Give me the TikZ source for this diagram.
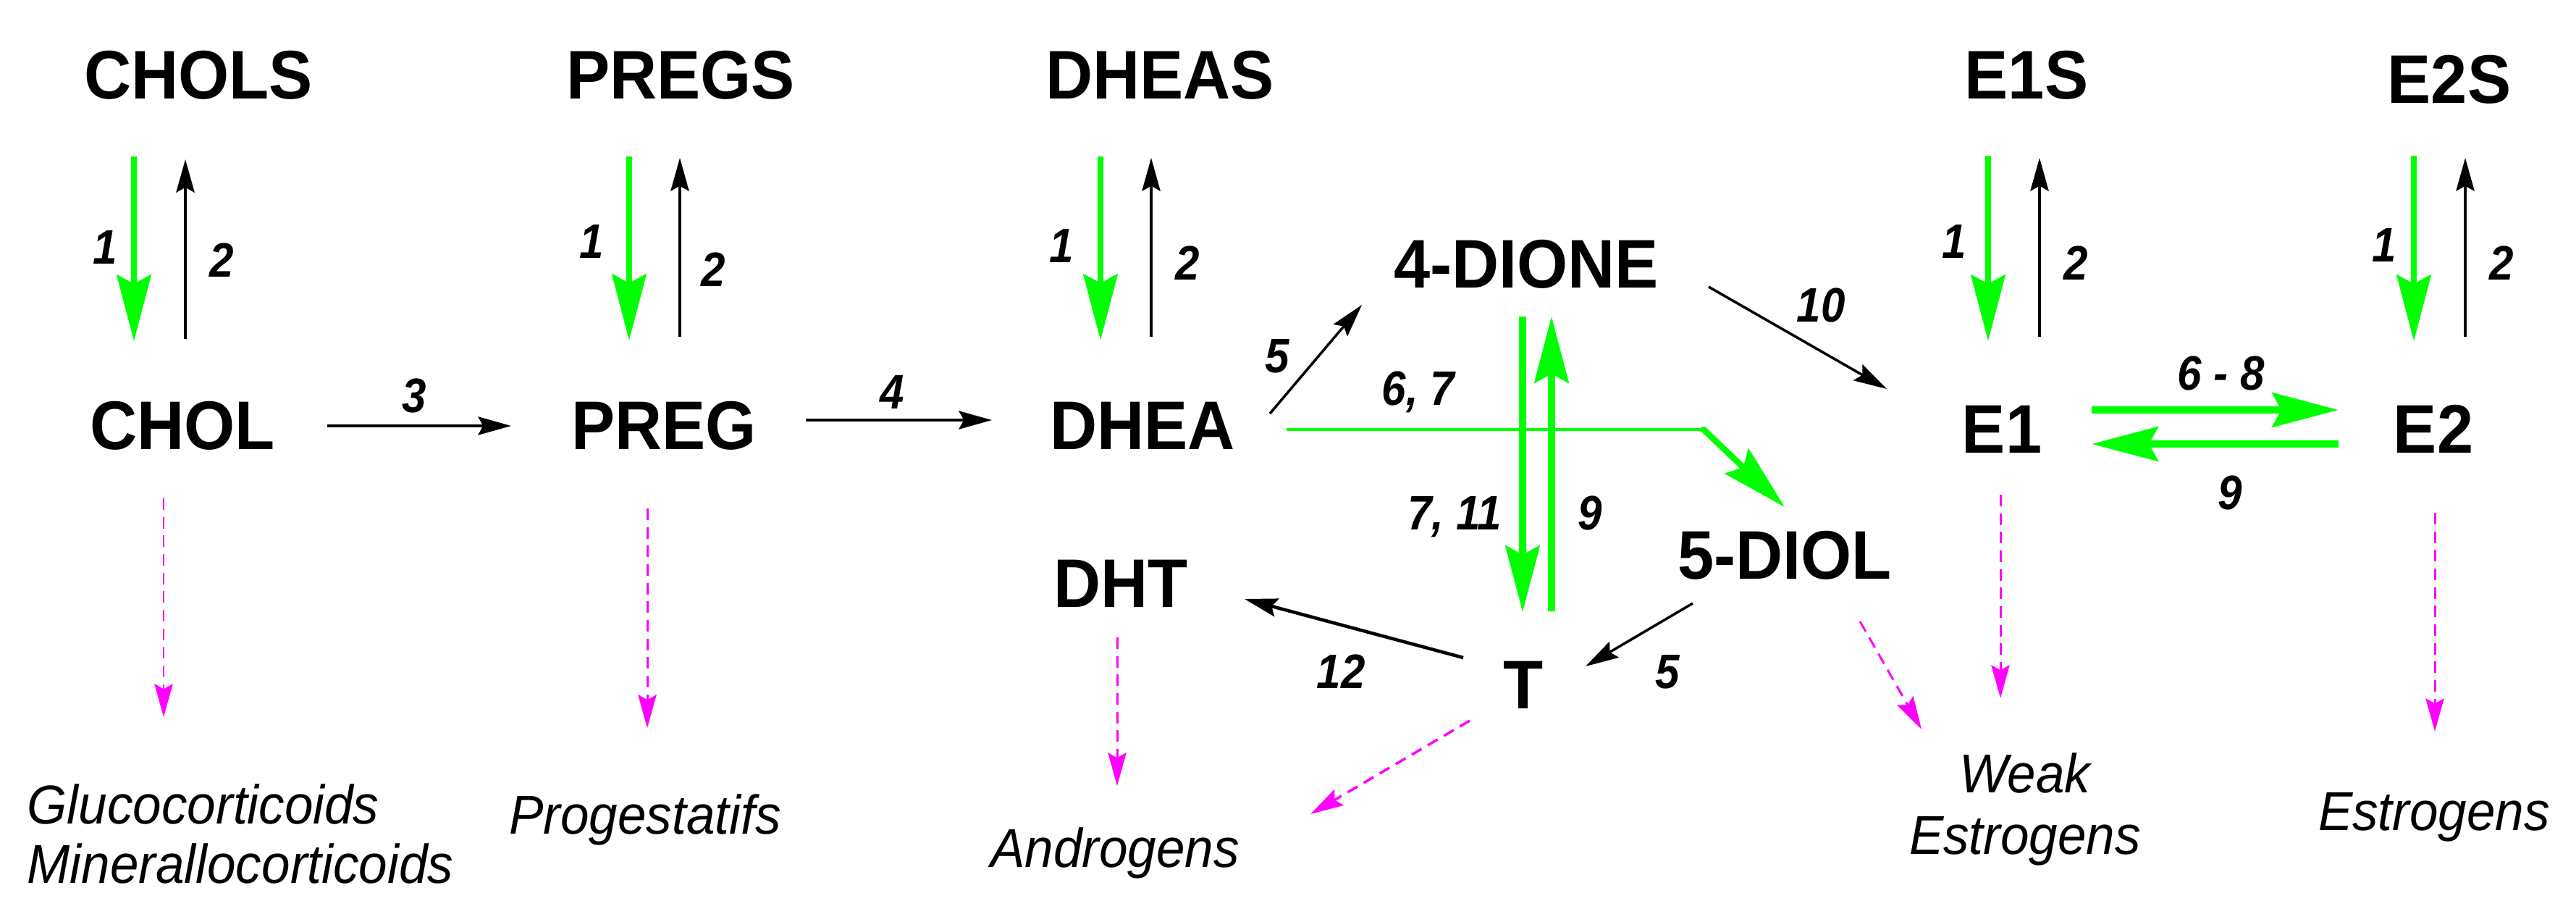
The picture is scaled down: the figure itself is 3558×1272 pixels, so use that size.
\documentclass[tikz,border=0pt]{standalone}
\usepackage{fontspec}
\setmainfont{Liberation Sans}
\newfontfamily\molfont[FakeStretch=0.95]{Liberation Sans}
\newfontfamily\numfont[FakeStretch=0.9]{Liberation Sans}
\newfontfamily\outfont[FakeStretch=0.94]{Liberation Sans}
\usetikzlibrary{arrows.meta}
\definecolor{grn}{HTML}{00FF00}
\definecolor{mag}{HTML}{FF00FF}
\begin{document}
\begin{tikzpicture}[x=0.01cm,y=-0.01cm,
  mol/.style={font=\molfont\fontsize{27}{29}\selectfont\bfseries, inner sep=0pt, anchor=base},
  num/.style={font=\numfont\fontsize{19}{21}\selectfont\bfseries\itshape, inner sep=0pt, anchor=base},
  outc/.style={font=\outfont\fontsize{21.5}{23.3}\selectfont\itshape, inner sep=0pt},
  blk/.style={draw=black, line width=1pt, -{Stealth[length=13pt,width=7.2pt,inset=2pt]}},
  gth/.style={draw=grn, line width=2.4pt, -{Stealth[length=26pt,width=13.4pt,inset=3.5pt]}},
  mgd/.style={draw=mag, line width=0.85pt, dash pattern=on 4.5pt off 2.8pt, -{Stealth[length=13pt,width=7.2pt,inset=2pt]}},
]
\fill[white] (0,0) rectangle (3558,1272);
\useasboundingbox (0,0) rectangle (3558,1272);

% molecules
\node[mol] (CHOLS) at (274,136) {CHOLS};
\node[mol] (PREGS) at (940,136) {PREGS};
\node[mol] (DHEAS) at (1602,136) {DHEAS};
\node[mol] (E1S) at (2799,136) {E1S};
\node[mol] (E2S) at (3383,142) {E2S};
\node[mol] (CHOL) at (252,620) {CHOL};
\node[mol] (PREG) at (917,620) {PREG};
\node[mol] (DHEA) at (1578,620) {DHEA};
\node[mol] (DIONE) at (2108,397) {4-DIONE};
\node[mol] (DIOL) at (2465,799) {5-DIOL};
\node[mol] (DHT) at (1548,838) {DHT};
\node[mol] (T) at (2104,978) {T};
\node[mol] (E1) at (2765,625) {E1};
\node[mol] (E2) at (3361,625) {E2};

% outcomes
\node[outc, anchor=north west, align=left] (gluco) at (37,1082) {Glucocorticoids\\Minerallocorticoids};
\node[outc, anchor=base] (prog) at (891,1151) {Progestatifs};
\node[outc, anchor=base] (andro) at (1540,1197) {Androgens};
\node[outc, anchor=north, align=center, font=\outfont\fontsize{21.5}{24.2}\selectfont\itshape] (weak) at (2797,1039) {Weak\\Estrogens};
\node[outc, anchor=base] (estro) at (3362,1146) {Estrogens};

% enzyme numbers
\node[num] (c1) at (145,364) {1};
\node[num] (c2) at (306,382) {2};
\node[num] (p1) at (817,356) {1};
\node[num] (p2) at (985,395) {2};
\node[num] (d1) at (1466,362) {1};
\node[num] (d2) at (1640,386) {2};
\node[num] (ea1) at (2699,356) {1};
\node[num] (ea2) at (2867,386) {2};
\node[num] (eb1) at (3293,361) {1};
\node[num] (eb2) at (3455,386) {2};
\node[num] (l3) at (572,569) {3};
\node[num] (l4) at (1232,564) {4};
\node[num] (l5a) at (1764,514) {5};
\node[num] (l67) at (1959,559) {6, 7};
\node[num] (l711) at (2009,731) {7, 11};
\node[num] (l9a) at (2196,731) {9};
\node[num] (l10) at (2515,444) {10};
\node[num] (l12) at (1852,950) {12};
\node[num] (l5b) at (2303,950) {5};
\node[num] (l68) at (3068,538) {6 - 8};
\node[num] (l9b) at (3080,703) {9};

% sulfate <-> free
\draw[gth] ([shift={(-89,80)}]CHOLS.base) -- ([shift={(-67,-149)}]CHOL.base);
\draw[blk] ([shift={(4,-152)}]CHOL.base) -- ([shift={(-18,84)}]CHOLS.base);
\draw[gth] ([shift={(-71,80)}]PREGS.base) -- ([shift={(-48,-150)}]PREG.base);
\draw[blk] ([shift={(22,-155)}]PREG.base) -- ([shift={(-1,82)}]PREGS.base);
\draw[gth] ([shift={(-82,80)}]DHEAS.base) -- ([shift={(-58,-150)}]DHEA.base);
\draw[blk] ([shift={(12,-155)}]DHEA.base) -- ([shift={(-12,82)}]DHEAS.base);
\draw[gth] ([shift={(-53,79)}]E1S.base) -- ([shift={(-19,-154)}]E1.base);
\draw[blk] ([shift={(52,-160)}]E1.base) -- ([shift={(18,82)}]E1S.base);
\draw[gth] ([shift={(-49,73)}]E2S.base) -- ([shift={(-27,-154)}]E2.base);
\draw[blk] ([shift={(44,-160)}]E2.base) -- ([shift={(22,76)}]E2S.base);

% main pathway
\draw[blk] ([shift={(200,-32)}]CHOL.base) -- ([shift={(-211,-32)}]PREG.base);
\draw[blk] ([shift={(196,-40)}]PREG.base) -- ([shift={(-208,-40)}]DHEA.base);
\draw[blk] ([shift={(176,-49)}]DHEA.base) -- ([shift={(-227,24)}]DIONE.base);
\coordinate (bend) at (2353,593);
\draw[draw=grn, line width=1.3pt] ([shift={(199,-27)}]DHEA.base) -- (bend);
\draw[gth, line cap=round] (bend) -- ([shift={(0,-99)}]DIOL.base);
\draw[gth, line width=2.6pt] ([shift={(-5,40)}]DIONE.base) -- ([shift={(-1,-133)}]T.base);
\draw[gth, line width=2.6pt] ([shift={(39,-134)}]T.base) -- ([shift={(35,40)}]DIONE.base);
\draw[blk] ([shift={(252,-1)}]DIONE.base) -- ([shift={(-159,-88)}]E1.base);
\draw[blk] ([shift={(-127,34)}]DIOL.base) -- ([shift={(86,-58)}]T.base);
\draw[blk, line width=1.3pt] ([shift={(-83,-70)}]T.base) -- ([shift={(171,-11)}]DHT.base);
\draw[gth, line width=3pt] ([shift={(124,-59)}]E1.base) -- ([shift={(-131,-59)}]E2.base);
\draw[gth, line width=3pt] ([shift={(-131,-12)}]E2.base) -- ([shift={(124,-12)}]E1.base);

% biological effects
\draw[mgd] ([shift={(-26,68)}]CHOL.base) -- ([shift={(189,-92)}]gluco.north west);
\draw[mgd] ([shift={(-23,82)}]PREG.base) -- ([shift={(3,-146)}]prog.base);
\draw[mgd] ([shift={(-5,42)}]DHT.base) -- ([shift={(3,-112)}]andro.base);
\draw[mgd, line width=1pt] ([shift={(-74,17)}]T.base) -- ([shift={(270,-73)}]andro.base);
\draw[mgd] ([shift={(104,59)}]DIOL.base) -- ([shift={(-143,-32)}]weak.north);
\draw[mgd] ([shift={(-2,58)}]E1.base) -- ([shift={(-34,-75)}]weak.north);
\draw[mgd] ([shift={(2,83)}]E2.base) -- ([shift={(1,-136)}]estro.base);
\end{tikzpicture}
\end{document}
